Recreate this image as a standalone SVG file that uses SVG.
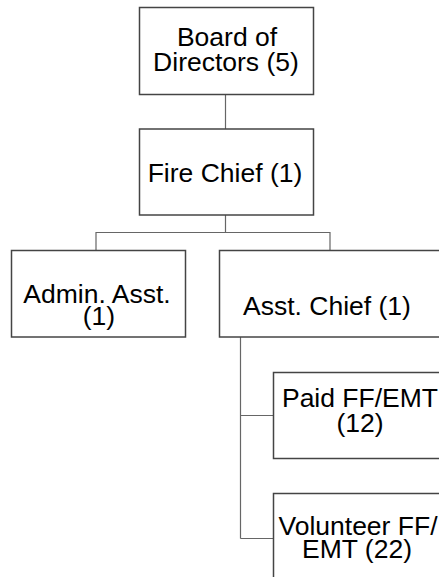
<svg xmlns="http://www.w3.org/2000/svg" width="439" height="577" viewBox="0 0 439 577">
<style>
.box{fill:#fff;stroke:#444;stroke-width:1.5}
.t{font-family:"Liberation Sans",Arial,sans-serif;font-size:26.5px;fill:#000;text-anchor:middle}
.c{fill:none;stroke:#666;stroke-width:1.2}
</style>
<rect width="439" height="577" fill="#fff"/>
<g id="connectors">
<path class="c" d="M225.5 94.5V129"/>
<path class="c" d="M225.5 215V232.5M96 250V232.5H330V250"/>
<path class="c" d="M240.5 337V538.5M240.5 415.5H273M240.5 538.5H273"/>
</g>
<g id="board">
<rect class="box" x="139.5" y="7.5" width="174" height="87"/>
<text class="t" x="227" y="46">Board of</text>
<text class="t" x="226" y="71">Directors (5)</text>
</g>
<g id="firechief">
<rect class="box" x="139.5" y="129" width="174" height="86"/>
<text class="t" x="225" y="182">Fire Chief (1)</text>
</g>
<g id="admin">
<rect class="box" x="11.5" y="250.5" width="174" height="86.5"/>
<text class="t" x="97" y="303">Admin. Asst.</text>
<text class="t" x="99" y="325">(1)</text>
</g>
<g id="asstchief">
<rect class="box" x="219.5" y="250.5" width="222" height="86.5"/>
<text class="t" x="327" y="315">Asst. Chief (1)</text>
</g>
<g id="paid">
<rect class="box" x="273.5" y="372.5" width="174" height="86"/>
<text class="t" x="360" y="407">Paid FF/EMT</text>
<text class="t" x="360" y="432">(12)</text>
</g>
<g id="volunteer">
<rect class="box" x="273.5" y="493.5" width="174" height="86"/>
<text class="t" x="358" y="535">Volunteer FF/</text>
<text class="t" x="357" y="558">EMT (22)</text>
</g>
</svg>
